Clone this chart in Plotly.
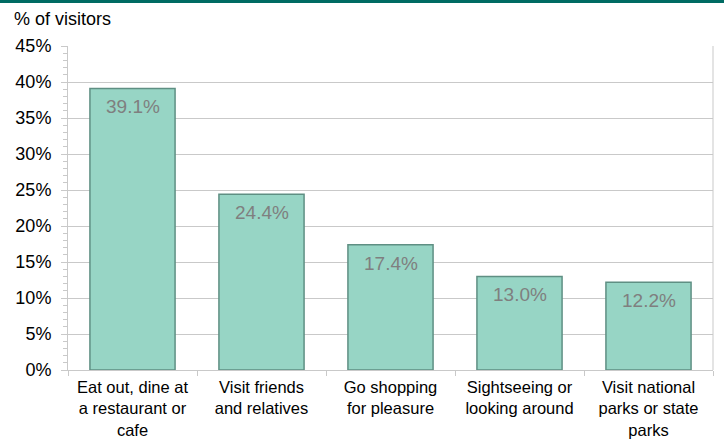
import plotly.graph_objects as go

categories = ["Eat out, dine at<br>a restaurant or<br>cafe", "Visit friends<br>and relatives",
              "Go shopping<br>for pleasure", "Sightseeing or<br>looking around",
              "Visit national<br>parks or state<br>parks"]
values = [39.1, 24.4, 17.4, 13.0, 12.2]
labels = [f"{v:.1f}%" for v in values]
y_ticks = [0, 5, 10, 15, 20, 25, 30, 35, 40, 45]
y_ticktext = [f"{t}%" for t in y_ticks]

FONT = "Arial, Liberation Sans"

fig = go.Figure()
fig.add_trace(go.Bar(
    x=categories, y=values,
    marker=dict(color="#97D5C5", line=dict(color="#5F8F83", width=1.5)),
    width=0.66, hoverinfo="skip",
))

annotations = [dict(text="% of visitors", xref="paper", yref="paper", x=-0.087, y=1.045,
                    xanchor="left", yanchor="bottom", showarrow=False,
                    font=dict(size=18, color="black", family=FONT))]
for c, v, t in zip(categories, values, labels):
    annotations.append(dict(x=c, y=v, text=t, xref="x", yref="y", yanchor="top",
                            yshift=-6, showarrow=False,
                            font=dict(size=19, color="#7F7F7F", family=FONT)))

fig.update_layout(
    width=724, height=440,
    margin=dict(l=68, r=11, t=46, b=70),
    paper_bgcolor="white", plot_bgcolor="white",
    font=dict(family=FONT, size=18, color="black"),
    showlegend=False,
    annotations=annotations,
    shapes=[dict(type="rect", xref="paper", yref="paper", x0=-0.2, x1=1.2,
                 y0=1 + 43 / 324, y1=1 + 47 / 324,
                 fillcolor="#006B63", line=dict(width=0), layer="above")],
)

fig.update_yaxes(
    range=[0, 45], tickvals=y_ticks, ticktext=y_ticktext,
    showgrid=True, gridcolor="#C9C9C9", gridwidth=1,
    showline=True, linecolor="#C9C9C9",
    ticks="outside", ticklen=6, tickcolor="#C9C9C9",
    minor=dict(dtick=1, ticks="outside", ticklen=4, tickcolor="#C9C9C9", showgrid=False),
    ticklabelstandoff=6, zeroline=False, automargin=False,
)
fig.update_xaxes(
    showline=True, linecolor="#C9C9C9", tickson="boundaries",
    ticks="outside", ticklen=5, tickcolor="#C9C9C9", showgrid=False,
    automargin=False, ticklabelstandoff=2, tickangle=0,
    tickfont=dict(size=16.5, family=FONT, color="black"),
)
fig.add_shape(type="line", xref="paper", yref="paper", x0=1, x1=1, y0=0, y1=1,
              line=dict(color="#C9C9C9", width=1))

fig.write_html("out.html")
